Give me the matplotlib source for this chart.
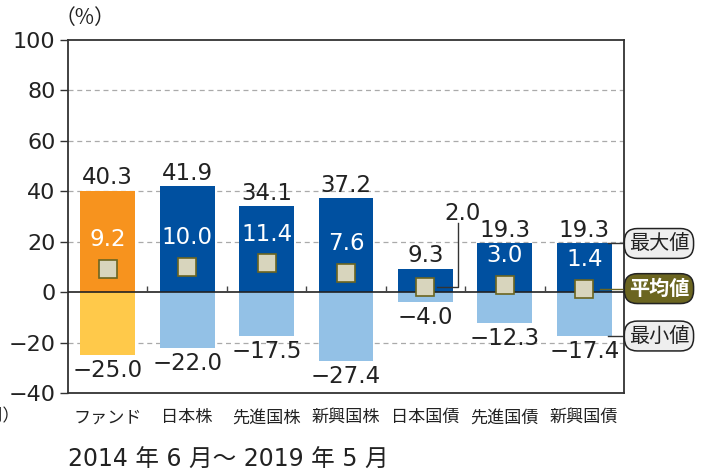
import numpy as np
import matplotlib
matplotlib.use("Agg")
import matplotlib.pyplot as plt

plt.rcParams["font.family"] = ["DejaVu Sans", "Noto Sans CJK JP"]

categories = ["ファンド", "日本株", "先進国株", "新興国株", "日本国債", "先進国債", "新興国債"]
max_vals = [40.3, 41.9, 34.1, 37.2, 9.3, 19.3, 19.3]
min_vals = [-25.0, -22.0, -17.5, -27.4, -4.0, -12.3, -17.4]
mean_vals = [9.2, 10.0, 11.4, 7.6, 2.0, 3.0, 1.4]
yticks = [-40, -20, 0, 20, 40, 60, 80, 100]

MAX_C = ["#f7931e"] + ["#0050a0"] * 6
MIN_C = ["#ffc94a"] + ["#93c1e6"] * 6
OLIVE = "#6b6520"
MARK = "#d8d5bd"
TXT = "#222222"
CJK = ["Noto Sans CJK JP", "DejaVu Sans"]


def fmt(v):
    return f"{v:.1f}".replace("-", "\u2212")


fig = plt.figure(figsize=(7.08, 4.73), dpi=100)
ax = fig.add_axes([68 / 708, 80 / 473, 556 / 708, 353 / 473])
x = np.arange(len(categories))
w = 0.69

ax.bar(x, max_vals, width=w, color=MAX_C, zorder=2)
ax.bar(x, min_vals, width=w, color=MIN_C, zorder=2)
ax.plot(x, mean_vals, ls="none", marker="s", ms=12.5, mfc=MARK, mec=OLIVE, mew=1.2, zorder=4)

for i in x:
    ax.annotate(fmt(max_vals[i]), (i, max_vals[i]), xytext=(0, 1), textcoords="offset points",
                ha="center", va="bottom", fontsize=16.5, color=TXT)
    ax.annotate(fmt(min_vals[i]), (i, min_vals[i]), xytext=(0, -3), textcoords="offset points",
                ha="center", va="top", fontsize=16.5, color=TXT)
    if categories[i] == "日本国債":
        ax.annotate(fmt(mean_vals[i]), (i, mean_vals[i]), xytext=(i + 0.47, mean_vals[i] + 29),
                    textcoords="data", ha="center", va="center", fontsize=16.5, color=TXT)
        ax.plot([i + 0.15, i + 0.41, i + 0.41], [mean_vals[i], mean_vals[i], mean_vals[i] + 25.5],
                color="#333333", lw=1.0, zorder=3)
    else:
        ax.annotate(fmt(mean_vals[i]), (i, mean_vals[i]), xytext=(0, 21), textcoords="offset points",
                    ha="center", va="center", fontsize=16.5, color="white", zorder=5)

# zero line and small separators
ax.axhline(0, color="#222222", lw=1.2, zorder=3)
ax.vlines(x[:-1] + 0.5, 0, 2.4, color="#444444", lw=1.0, zorder=3)

for g in [80, 60, 40, 20, -20]:
    ax.axhline(g, color="#aaaaaa", lw=0.9, ls=(0, (4, 3)), zorder=1)

ax.set_xlim(-0.5, len(categories) - 0.5)
ax.set_ylim(-40, 100)
ax.set_yticks(yticks)
ax.set_yticklabels([str(t).replace("-", "\u2212") for t in yticks], fontsize=16, color=TXT)
ax.tick_params(axis="y", length=6, width=1.0, color="#333333", pad=3)
ax.set_xticks(x)
ax.set_xticklabels(categories, fontsize=12.3, color=TXT, family=CJK)
ax.tick_params(axis="x", length=0, pad=11)
for s in ax.spines.values():
    s.set_color("#333333")
    s.set_linewidth(1.3)

# right-side legend boxes
last = len(categories) - 1
box_x = 6.94
items = [(max_vals[last], "最大値", "#eeeeee", TXT, "normal"),
         (mean_vals[last], "平均値", OLIVE, "white", "bold"),
         (min_vals[last], "最小値", "#eeeeee", TXT, "normal")]
for yv, lab, fc, tc, fw in items:
    x0 = last + 0.2 if lab == "平均値" else last + w / 2 - 0.05
    ax.plot([x0, box_x - 0.45], [yv, yv], color=OLIVE if lab == "平均値" else "#333333",
            lw=1.0, clip_on=False, zorder=3)
    ax.text(box_x, yv, lab, ha="center", va="center", fontsize=14.5, color=tc, weight=fw,
            family=CJK, clip_on=False, zorder=6,
            bbox=dict(boxstyle="round,pad=0.22,rounding_size=0.65", fc=fc, ec="#222222", lw=1.1))

fig.text(85 / 708, 1 - 18 / 473, "（%）", ha="center", va="center", fontsize=15, color=TXT,
         family=CJK)
fig.text(20 / 708, 1 - 416 / 473, "（期間）", ha="right", va="center", fontsize=12.3, color=TXT,
         family=CJK)
fig.text(68 / 708, 1 - 460 / 473, "2014 年 6 月〜 2019 年 5 月", ha="left", va="center",
         fontsize=17, color=TXT)

fig.savefig("out.png", dpi=100, facecolor="white")
